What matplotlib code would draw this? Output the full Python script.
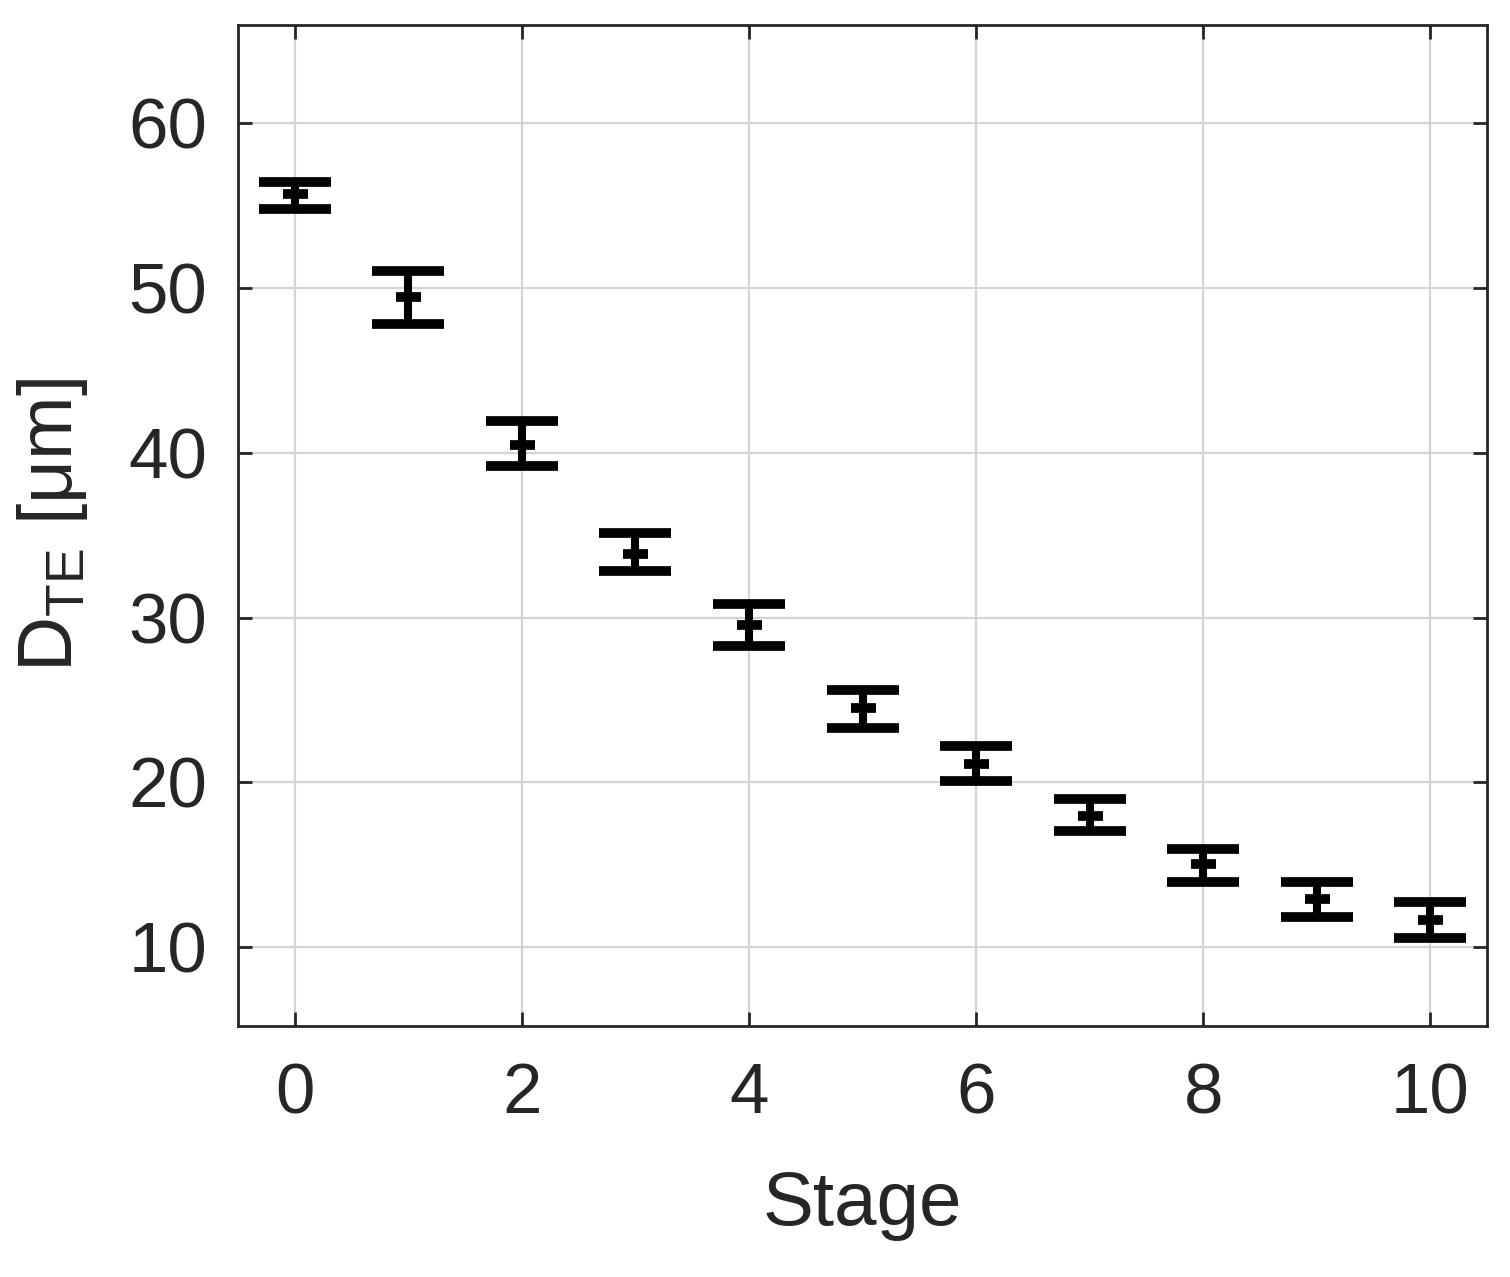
import matplotlib
matplotlib.use("Agg")
import matplotlib.pyplot as plt
import numpy as np

plt.rcParams['font.family'] = ['Liberation Sans', 'DejaVu Sans']
plt.rcParams['mathtext.fontset'] = 'custom'
plt.rcParams['mathtext.rm'] = 'Liberation Sans'

stages = [0, 1, 2, 3, 4, 5, 6, 7, 8, 9, 10]
d_mean = [55.72, 49.44, 40.49, 33.87, 29.54, 24.53, 21.13, 17.93, 15.06, 12.88, 11.66]
d_upper = [56.42, 51.04, 41.92, 35.12, 30.80, 25.62, 22.20, 18.96, 15.93, 13.94, 12.70]
d_lower = [54.81, 47.83, 39.23, 32.80, 28.29, 23.27, 20.05, 17.02, 13.94, 11.82, 10.57]
xticks = [0, 2, 4, 6, 8, 10]
yticks = [10, 20, 30, 40, 50, 60]

mean = np.array(d_mean)
err = np.vstack([mean - np.array(d_lower), np.array(d_upper) - mean])

fig = plt.figure(figsize=(15.1, 12.77), dpi=100)
ax = fig.add_axes([0.1576, 0.1966, 0.8272, 0.7841])

ax.errorbar(stages, mean, yerr=err, fmt='_', color='black', ecolor='black',
            elinewidth=5.8, capsize=26, capthick=5.8, markersize=18,
            markeredgewidth=7, zorder=3)

ax.set_xlim(-0.5, 10.5)
ax.set_ylim(5.2, 66)
ax.set_xticks(xticks)
ax.set_yticks(yticks)
ax.grid(True, color='#d4d4d4', linewidth=1.6)
ax.set_axisbelow(True)

dark = '#262626'
for s in ax.spines.values():
    s.set_linewidth(2.0)
    s.set_color(dark)
ax.tick_params(direction='in', length=10, width=2.0, colors=dark,
               labelsize=51, top=True, right=True)
ax.tick_params(axis='x', pad=26)
ax.tick_params(axis='y', pad=22)

ax.set_xlabel('Stage', fontsize=55, color=dark, labelpad=30)
ax.set_ylabel(r'$\mathregular{D_{TE}}$ [μm]', fontsize=55, color=dark, labelpad=28)

fig.savefig('out.png', dpi=100, facecolor='white')
